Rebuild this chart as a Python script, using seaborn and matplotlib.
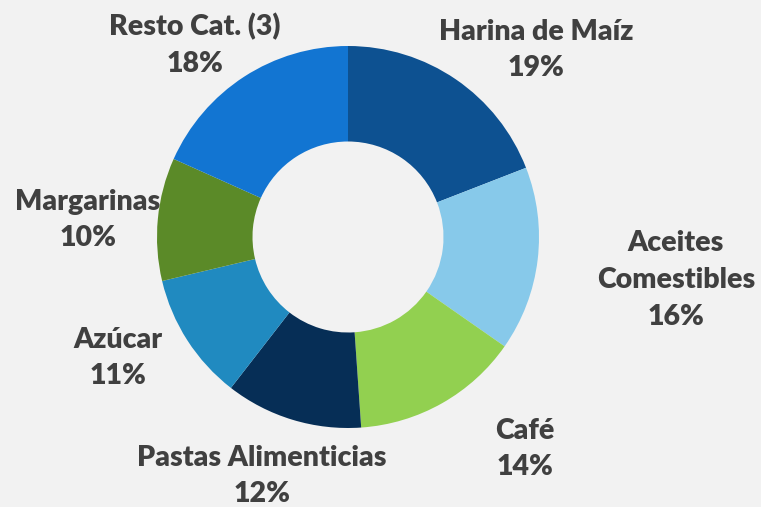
import numpy as np
import matplotlib
matplotlib.use("Agg")
import matplotlib.pyplot as plt
import seaborn as sns

# Participación por categoría
categorias = ["Harina de Maíz", "Aceites\nComestibles", "Café", "Pastas Alimenticias",
              "Azúcar", "Margarinas", "Resto Cat. (3)"]
porcentajes = [19.1, 15.6, 14.2, 11.6, 10.8, 10.4, 18.3]
colores = ["#0D5191", "#87C9EA", "#92D050", "#062E56", "#208AC0", "#5B8A28", "#1275D2"]

# posiciones de las etiquetas en pixeles (x, y desde arriba)
pos_etiquetas = [(536, 50), (676, 280), (525, 449), (262, 476), (118, 358), (88, 220), (195, 45)]

sns.set_theme(style="white")
plt.rcParams['font.family'] = ['Lato', 'DejaVu Sans']

fig = plt.figure(figsize=(7.61, 5.07), dpi=100)
fig.patch.set_facecolor("#F2F2F2")
ax = fig.add_axes([0, 0, 1, 1])
ax.set_facecolor("#F2F2F2")

ax.pie(porcentajes, colors=colores, startangle=90, counterclock=False,
       center=(348, 507 - 237), radius=191,
       wedgeprops=dict(width=95.5, edgecolor="none"))

for cat, pct, (x, y) in zip(categorias, porcentajes, pos_etiquetas):
    ax.text(x, 507 - y, f"{cat}\n{round(pct):.0f}%", ha="center", va="center",
            fontsize=20.5, fontweight="heavy", color="#404040", linespacing=1.52)

ax.set_xlim(0, 761)
ax.set_ylim(0, 507)
ax.set_aspect("equal")
ax.axis("off")

fig.savefig("out.png", dpi=100, facecolor=fig.get_facecolor())
